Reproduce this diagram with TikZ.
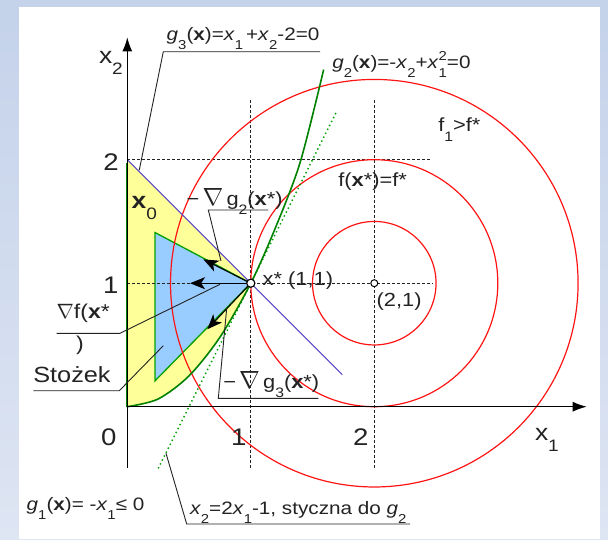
\documentclass[tikz,border=0pt]{standalone}
\usepackage{fontspec}
\setmainfont[FakeStretch=1.15]{Liberation Sans}
\usetikzlibrary{arrows.meta}
\newcommand\lo[1]{\raisebox{-0.5em}{\scalebox{0.72}{#1}}}
\newcommand\hi[1]{\raisebox{0.42em}{\scalebox{0.72}{#1}}}
\newcommand\fsz[1]{\fontsize{#1}{#1}\selectfont}
\newcommand\nab[1]{{\fontsize{#1}{#1}\selectfont$\nabla$}}
\definecolor{bgtop}{RGB}{196,210,234}
\definecolor{bgbot}{RGB}{222,229,243}
\definecolor{cyel}{RGB}{255,255,153}
\definecolor{cblu}{RGB}{153,204,255}
\definecolor{cgrn}{RGB}{0,160,0}
\definecolor{cdgrn}{RGB}{0,130,0}
\definecolor{cvio}{RGB}{90,70,200}
\definecolor{cred}{RGB}{255,20,20}
\definecolor{ctxt}{RGB}{35,35,35}
\begin{document}
\begin{tikzpicture}[x=1pt,y=-1pt,
  lbl/.style={anchor=base west,inner sep=0pt,outer sep=0pt,text=ctxt},
  leader/.style={draw=ctxt,line width=0.9pt},
  dsh/.style={draw=ctxt,line width=0.9pt,dash pattern=on 2.5pt off 2.5pt},
  gradarrow/.style={draw=black,line width=1.1pt,-{Stealth[length=15pt,width=12pt,inset=4pt]}},
  marker/.style={circle,draw=black,fill=white,line width=1pt,inner sep=0pt,minimum size=8pt}]
\useasboundingbox (0,0) rectangle (608,539);
\shade[top color=bgtop,bottom color=bgbot] (0,0) rectangle (608,539);
\fill[white] (19,7) rectangle (600,539);
% ---------------- math part
\begin{scope}[shift={(127.3,406.7)},x=123.5pt,y=123.5pt]
  \fill[cyel] (0,0) -- (0,2) -- (1,1) -- plot[domain=1:0,samples=30] (\x,{\x*\x}) -- cycle;
  \filldraw[fill=cblu,draw=cgrn,line width=1.3pt] (0.225,1.41) -- (1,1) -- (0.225,0.21) -- cycle;
  \draw[dsh] (0,2) -- (2.465,2);
  \draw[dsh] (0,1) -- (2.47,1);
  \draw[dsh] (1,2.483) -- (1,-0.507);
  \draw[dsh] (2,2.483) -- (2,-0.507);
  \draw[cred,line width=1.2pt] (2,1) circle (0.5);
  \draw[cred,line width=1.2pt] (2,1) circle (1);
  \draw[cred,line width=1.2pt] (2,1) circle (1.65);
  \draw[cvio,line width=1pt] (0,2) -- (1.74,0.26);
  \draw[cgrn,line width=1.4pt,dash pattern=on 1.4pt off 3pt] (0.25,-0.5) -- (1.69,2.38);
  \draw[cdgrn,line width=1.6pt] plot[smooth] coordinates {(0,0) (0.25,0.0625) (0.5,0.25) (0.75,0.5625) (1,1) (1.2,1.45) (1.4,1.98) (1.59,2.73)};
  \draw[cdgrn,line width=2pt] (0,0) -- (0,1.97);
  \draw[line width=1.1pt,-{Latex[length=14pt,width=10pt]}] (0,-0.494) -- (0,2.99);
  \draw[line width=1.1pt,-{Latex[length=14pt,width=10pt]}] (0,0) -- (3.72,0);
  \node[marker] (xs) at (1,1) {};
  \node[marker,minimum size=7pt] (c21) at (2,1) {};
  \coordinate (tf) at (0.508,1);
  \coordinate (tg2) at (0.616,1.193);
  \coordinate (tg3) at (0.648,0.627);
  \draw[gradarrow] (xs.center) -- (tf);
  \draw[gradarrow] (xs.center) -- (tg2);
  \draw[gradarrow] (xs.center) -- (tg3);
  \node[marker] at (1,1) {};
\end{scope}
% ---------------- labels
\node[lbl,font=\fsz{18}] (lg3) at (166.7,40.7) {\textit{g}\lo{3}(\textbf{x})=\textit{x}\lo{1}\,+\textit{x}\lo{2}-2=0};
\node[lbl,font=\fsz{18}] (lg2) at (332.3,68.3) {\textit{g}\lo{2}(\textbf{x})=-\textit{x}\lo{2}+\textit{x}\rlap{\lo{1}}\hi{2}=0};
\node[lbl,font=\fsz{19}] (lf1) at (438.3,131.7) {f\lo{1}>f*};
\node[lbl,font=\fsz{19}] (lfs) at (338.3,186.7) {f(\textbf{x}*)=f*};
\node[lbl,font=\fsz{19}] (lxs) at (262.7,285) {x* (1,1)};
\node[lbl,font=\fsz{19}] (l21) at (376.7,306.7) {(2,1)};
\node[lbl,font=\fsz{23}] (lx0) at (131.7,208.3) {\textbf{x}\lo{0}};
\node[lbl,font=\fsz{19}] (lng2) at (186.7,205) {−\,\nab{24}\,g\lo{2}(\textbf{x}*)};
\node[lbl,font=\fsz{20}] (lnf) at (56.7,318.3) {\nab{20}f(\textbf{x}*};
\node[lbl,font=\fsz{20}] (lnfp) at (76,350) {)};
\node[lbl,font=\fsz{22}] (lst) at (33.3,382.3) {Stożek};
\node[lbl,font=\fsz{19}] (lng3) at (223.3,388.3) {−\,\nab{24}\,g\lo{3}(\textbf{x}*)};
\node[lbl,font=\fsz{18}] (lg1) at (26.7,510) {\textit{g}\lo{1}(\textbf{x})= -\textit{x}\lo{1}≤ 0};
\node[lbl,font=\fsz{18}] (lty) at (190,514.3) {\textit{x}\lo{2}=2\textit{x}\lo{1}-1, styczna do \textit{g}\lo{2}};
\node[lbl,font=\fsz{24}] (t0) at (101,445) {0};
\node[lbl,font=\fsz{24}] (tx1) at (231,445) {1};
\node[lbl,font=\fsz{24}] (tx2) at (353,445) {2};
\node[lbl,font=\fsz{24}] (ty2) at (103.3,170.7) {2};
\node[lbl,font=\fsz{24}] (ty1) at (103,293.3) {1};
\node[lbl,font=\fsz{23}] (ax2) at (99,63) {x\lo{2}};
\node[lbl,font=\fsz{23}] (ax1) at (535,440) {x\lo{1}};
% ---------------- leaders
\coordinate (a1) at (320,51.7); \coordinate (a2) at (163.3,51.7); \coordinate (a3) at (139.3,170);
\draw[leader] (a1) -- (a2) -- (a3);
\coordinate (b1) at (268.3,210); \coordinate (b2) at (208.3,210); \coordinate (b3) at (221,261);
\draw[leader] (b1) -- (b2) -- (b3);
\coordinate (c1) at (56.7,333.3); \coordinate (c2) at (120,333.3); \coordinate (c3) at (220,284.3);
\draw[leader] (c1) -- (c2) -- (c3);
\coordinate (d1) at (33.3,390.7); \coordinate (d2) at (119.3,390.7); \coordinate (d3) at (163.3,345.7);
\draw[leader] (d1) -- (d2) -- (d3);
\coordinate (e1) at (318.3,398.3); \coordinate (e2) at (218.3,398.3); \coordinate (e3) at (226.7,308.3);
\draw[leader] (e1) -- (e2) -- (e3);
\coordinate (f1) at (410,524); \coordinate (f2) at (186.7,524); \coordinate (f3) at (166,453.3);
\draw[leader] (f1) -- (f2) -- (f3);
\end{tikzpicture}
\end{document}
